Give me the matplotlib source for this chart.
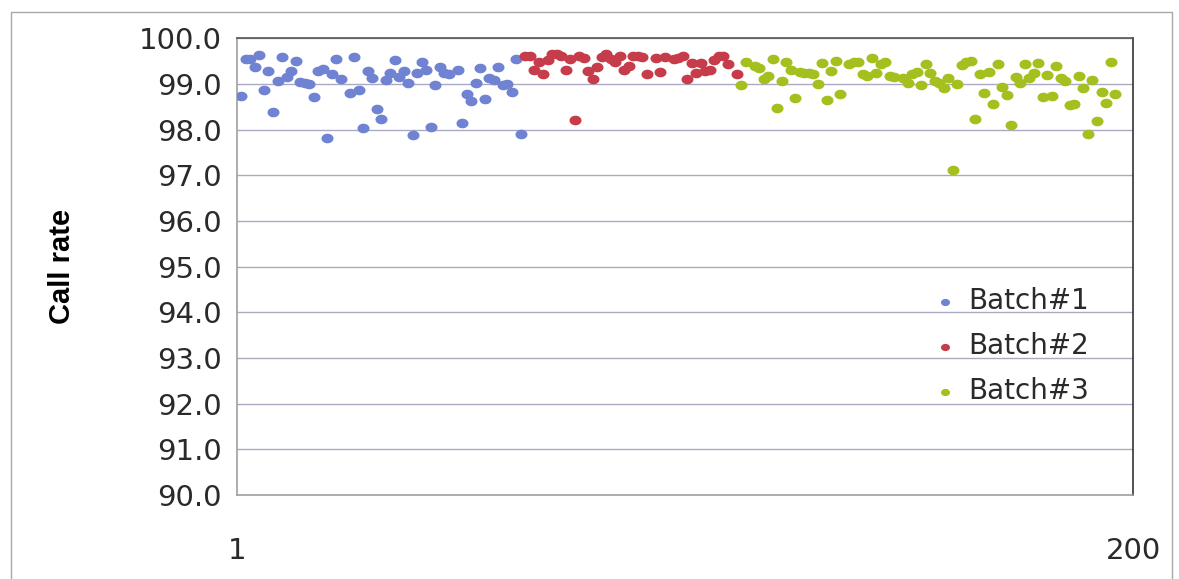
import numpy as np
import matplotlib
matplotlib.use("Agg")
import matplotlib.pyplot as plt
from matplotlib.path import Path
from matplotlib.patches import Rectangle

# ---- data ----
batch1_x = [2, 3, 4, 5, 6, 7, 8, 9, 10, 11, 12, 13, 14, 15, 16, 17, 18, 19, 20, 21,
            22, 23, 24, 26, 27, 28, 29, 30, 31, 32, 33, 34, 35, 36, 37, 38, 39, 40, 41, 42,
            43, 44, 45, 46, 47, 48, 50, 51, 52, 53, 54, 55, 56, 57, 58, 59, 60, 61, 62, 63, 64]
batch1_y = [98.74, 99.54, 99.55, 99.36, 99.63, 98.86, 99.29, 98.38, 99.07, 99.58, 99.15, 99.29,
            99.50, 99.05, 99.01, 98.99, 98.72, 99.29, 99.32, 97.81, 99.22, 99.55, 99.10, 98.81,
            99.58, 98.86, 98.03, 99.28, 99.12, 98.46, 98.23, 99.08, 99.23, 99.52, 99.15, 99.28,
            99.02, 97.88, 99.23, 99.47, 99.31, 98.05, 98.98, 99.37, 99.23, 99.21, 99.31, 98.15,
            98.78, 98.62, 99.03, 99.34, 98.68, 99.12, 99.08, 99.37, 98.98, 99.00, 98.83, 99.55, 97.91]

batch2_x = [65, 66, 67, 68, 69, 70, 71, 72, 73, 74, 75, 76, 77, 78, 79, 80, 81, 82, 83, 84,
            85, 86, 87, 88, 89, 90, 91, 92, 94, 95, 96, 98, 99, 100, 101, 102, 103, 104, 105,
            106, 107, 108, 109, 110, 112]
batch2_y = [99.62, 99.62, 99.31, 99.47, 99.21, 99.52, 99.65, 99.65, 99.62, 99.31, 99.54, 98.21,
            99.62, 99.57, 99.28, 99.10, 99.38, 99.59, 99.65, 99.55, 99.48, 99.62, 99.31, 99.40,
            99.61, 99.61, 99.59, 99.21, 99.57, 99.25, 99.59, 99.54, 99.57, 99.62, 99.10, 99.45,
            99.23, 99.45, 99.29, 99.31, 99.52, 99.61, 99.62, 99.43, 99.21]

batch3_x = [113, 114, 116, 117, 118, 119, 120, 121, 122, 123, 124, 125, 126, 127, 128, 129, 130,
            131, 132, 133, 134, 135, 137, 138, 139, 140, 141, 142, 143, 144, 145, 146, 147, 149,
            150, 151, 152, 153, 154, 155, 156, 157, 158, 159, 160, 161, 162, 163, 164, 165, 166,
            167, 168, 169, 170, 171, 172, 173, 174, 175, 176, 177, 178, 179, 180, 181, 182, 183,
            184, 185, 186, 187, 188, 189, 190, 191, 192, 193, 194, 195, 196]
batch3_y = [98.98, 99.48, 99.40, 99.34, 99.10, 99.17, 99.55, 98.48, 99.06, 99.48, 99.31, 98.69,
            99.26, 99.24, 99.23, 99.21, 98.99, 99.45, 98.64, 99.28, 99.50, 98.78, 99.43, 99.47,
            99.47, 99.21, 99.17, 99.57, 99.23, 99.43, 99.48, 99.17, 99.16, 99.14, 99.03, 99.21,
            99.27, 98.97, 99.43, 99.24, 99.07, 99.03, 98.90, 99.13, 97.11, 98.99, 99.42, 99.49,
            99.50, 98.23, 99.21, 98.79, 99.27, 98.55, 99.43, 98.94, 98.76, 98.09, 99.15, 99.01,
            99.43, 99.13, 99.23, 99.46, 98.71, 99.19, 98.74, 99.39, 99.14, 99.06, 98.53, 98.55,
            99.17, 98.92, 97.91, 99.09, 98.19, 98.83, 98.58, 99.47, 98.78]

series_names = ["Batch#1", "Batch#2", "Batch#3"]
series_colors = ["#6F83D2", "#C63C4A", "#A3C01E"]
y_ticks = [90.0, 91.0, 92.0, 93.0, 94.0, 95.0, 96.0, 97.0, 98.0, 99.0, 100.0]
x_ticks = [1, 200]
y_label = "Call rate"

# ---- style ----
fig = plt.figure(figsize=(11.79, 5.79), dpi=100)
fig.patch.set_facecolor("white")
fig.add_artist(Rectangle((0.009, -0.02), 0.985, 1.0, transform=fig.transFigure,
                         fill=False, edgecolor="#A8A8A8", linewidth=1.0))

ax = fig.add_axes([0.201, 0.145, 0.760, 0.789])

t = np.linspace(0, 2 * np.pi, 40)
ell = Path(np.column_stack([1.25 * np.cos(t), np.sin(t)]), closed=True)

for xs, ys, name, col in zip([batch1_x, batch2_x, batch3_x],
                             [batch1_y, batch2_y, batch3_y],
                             series_names, series_colors):
    ax.scatter(xs, ys, s=75, marker=ell, color=col, linewidths=0, label=name, zorder=3)

ax.set_xlim(1, 200)
ax.set_ylim(90, 100)
ax.set_yticks(y_ticks)
ax.set_yticklabels([f"{v:.1f}" for v in y_ticks])
ax.set_xticks(x_ticks)
ax.set_xticklabels([str(v) for v in x_ticks])
ax.tick_params(axis="both", length=0, labelsize=21, colors="#2A2A2A")
ax.tick_params(axis="y", pad=11)
ax.tick_params(axis="x", pad=30)

ax.grid(axis="y", color="#A9A9C4", linewidth=1.0, zorder=0)
ax.set_axisbelow(True)
for side, col in [("top", "#555555"), ("right", "#333333"), ("left", "#A0A0A0"), ("bottom", "#A0A0A0")]:
    ax.spines[side].set_color(col)
    ax.spines[side].set_linewidth(1.2)

ax.set_ylabel(y_label, fontsize=21, fontweight="bold",
              family=["Liberation Sans", "DejaVu Sans"])
ax.yaxis.set_label_coords(-0.18, 0.5)

leg = ax.legend(loc="upper left", bbox_to_anchor=(0.762, 0.48), frameon=False,
                fontsize=20, handletextpad=0.35, labelspacing=0.62, markerscale=0.75,
                handlelength=1.0, borderaxespad=0)
for txt in leg.get_texts():
    txt.set_color("#2A2A2A")

fig.savefig("out.png", dpi=100)
